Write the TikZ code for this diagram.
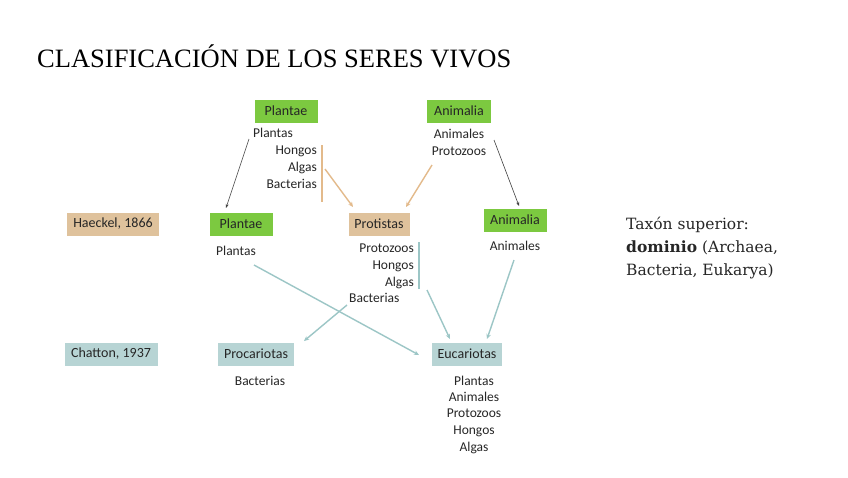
\documentclass[tikz,border=0pt]{standalone}
\usepackage{fontspec}
\setmainfont{Carlito}
\newfontfamily\titlefont{Liberation Serif}
\newfontfamily\notefont{DejaVu Serif}
\usetikzlibrary{arrows.meta}
\definecolor{boxgreen}{HTML}{7CC940}
\definecolor{boxtan}{HTML}{DFC29C}
\definecolor{boxteal}{HTML}{B7D4D4}
\definecolor{lineteal}{HTML}{9CC6C6}
\definecolor{lineorange}{HTML}{E3BA8B}
\definecolor{linedark}{HTML}{404040}
\definecolor{txt}{HTML}{262626}
\begin{document}
\begin{tikzpicture}[x=1pt,y=-1pt,
  lbl/.style={font=\fontsize{13.5}{15}\selectfont, text=txt, inner sep=0pt, anchor=base},
  taxbox/.style={font=\fontsize{14}{15}\selectfont, text=txt, minimum height=23pt, inner sep=0pt, anchor=center},
  gbox/.style={taxbox, fill=boxgreen, minimum width=63pt},
  tbox/.style={taxbox, fill=boxtan},
  cbox/.style={taxbox, fill=boxteal},
  darr/.style={draw=linedark, line width=0.6pt, -{Stealth[length=4pt,width=3pt]}},
  oarr/.style={draw=lineorange, line width=1.4pt, -{Stealth[length=5pt,width=4.5pt]}},
  carr/.style={draw=lineteal, line width=1.4pt, -{Stealth[length=5pt,width=4.5pt]}},
  obar/.style={draw=lineorange, line width=1.3pt},
  cbar/.style={draw=lineteal, line width=1.3pt}]
\useasboundingbox (0,0) rectangle (848,477);
\fill[white] (0,0) rectangle (848,477);

% title
\node[font=\titlefont\fontsize{26.5}{30}\selectfont, anchor=base west, inner sep=0pt] (title) at (37,67) {CLASIFICACIÓN DE LOS SERES VIVOS};

% top row
\node[gbox] (plantaeT) at (286,111) {Plantae};
\node[lbl, anchor=base west] (plantasT) at (253,137) {Plantas};
\node[lbl, anchor=base east] (hongosT) at (317,154) {Hongos};
\node[lbl, anchor=base east] (algasT) at (317,171) {Algas};
\node[lbl, anchor=base east] (bactT) at (317,188) {Bacterias};
\coordinate (obarT) at (322,145);
\coordinate (obarB) at (322,202);
\draw[obar] (obarT) -- (obarB);

\node[gbox, minimum width=64pt] (animaliaT) at (459,111) {Animalia};
\node[lbl] (animalesT) at (459,138) {Animales};
\node[lbl] (protozoosT) at (459,155) {Protozoos};

% Haeckel row
\node[tbox, minimum width=92pt] (haeckel) at (113,224) {Haeckel, 1866};
\node[gbox] (plantaeM) at (241,224) {Plantae};
\node[lbl] (plantasM) at (236,255) {Plantas};
\node[tbox, minimum width=61pt] (protistas) at (379,224) {Protistas};
\node[lbl, anchor=base east] (protozoosM) at (414,252) {Protozoos};
\node[lbl, anchor=base east] (hongosM) at (414,269) {Hongos};
\node[lbl, anchor=base east] (algasM) at (414,286) {Algas};
\node[lbl, anchor=base west] (bactM) at (349,302) {Bacterias};
\coordinate (cbarT) at (419,242);
\coordinate (cbarB) at (419,289);
\draw[cbar] (cbarT) -- (cbarB);
\node[gbox] (animaliaM) at (515,220) {Animalia};
\node[lbl] (animalesM) at (515,250) {Animales};

% Chatton row
\node[cbox, minimum width=93pt] (chatton) at (111,354) {Chatton, 1937};
\node[cbox, minimum width=76pt] (procariotas) at (256,354) {Procariotas};
\node[lbl] (bactC) at (260,385) {Bacterias};
\node[cbox, minimum width=70pt] (eucariotas) at (467,354) {Eucariotas};
\node[lbl] (plantasE) at (474,385) {Plantas};
\node[lbl] (animalesE) at (474,401) {Animales};
\node[lbl] (protozoosE) at (474,417) {Protozoos};
\node[lbl] (hongosE) at (474,434) {Hongos};
\node[lbl] (algasE) at (474,451) {Algas};

% note
\node[font=\notefont\fontsize{15.5}{23}\selectfont, text=txt, anchor=base west, align=left, inner sep=0pt] (note) at (626,275)
 {Taxón superior:\\ \textbf{dominio} (Archaea,\\ Bacteria, Eukarya)};

% arrows
\coordinate (a1s) at (249,139); \coordinate (a1e) at (226,208);
\draw[darr] (a1s) -- (a1e);
\coordinate (a2s) at (494,140); \coordinate (a2e) at (519,206);
\draw[darr] (a2s) -- (a2e);
\coordinate (o1s) at (325,169); \coordinate (o1e) at (353,207);
\draw[oarr] (o1s) -- (o1e);
\coordinate (o2s) at (432,165); \coordinate (o2e) at (406,207);
\draw[oarr] (o2s) -- (o2e);
\coordinate (c1s) at (254,265); \coordinate (c1e) at (419,355);
\draw[carr] (c1s) -- (c1e);
\coordinate (c2s) at (347,305); \coordinate (c2e) at (304,341);
\draw[carr] (c2s) -- (c2e);
\coordinate (c3s) at (427,290); \coordinate (c3e) at (450,339);
\draw[carr] (c3s) -- (c3e);
\coordinate (c4s) at (514,260); \coordinate (c4e) at (487,339);
\draw[carr] (c4s) -- (c4e);
\end{tikzpicture}
\end{document}
